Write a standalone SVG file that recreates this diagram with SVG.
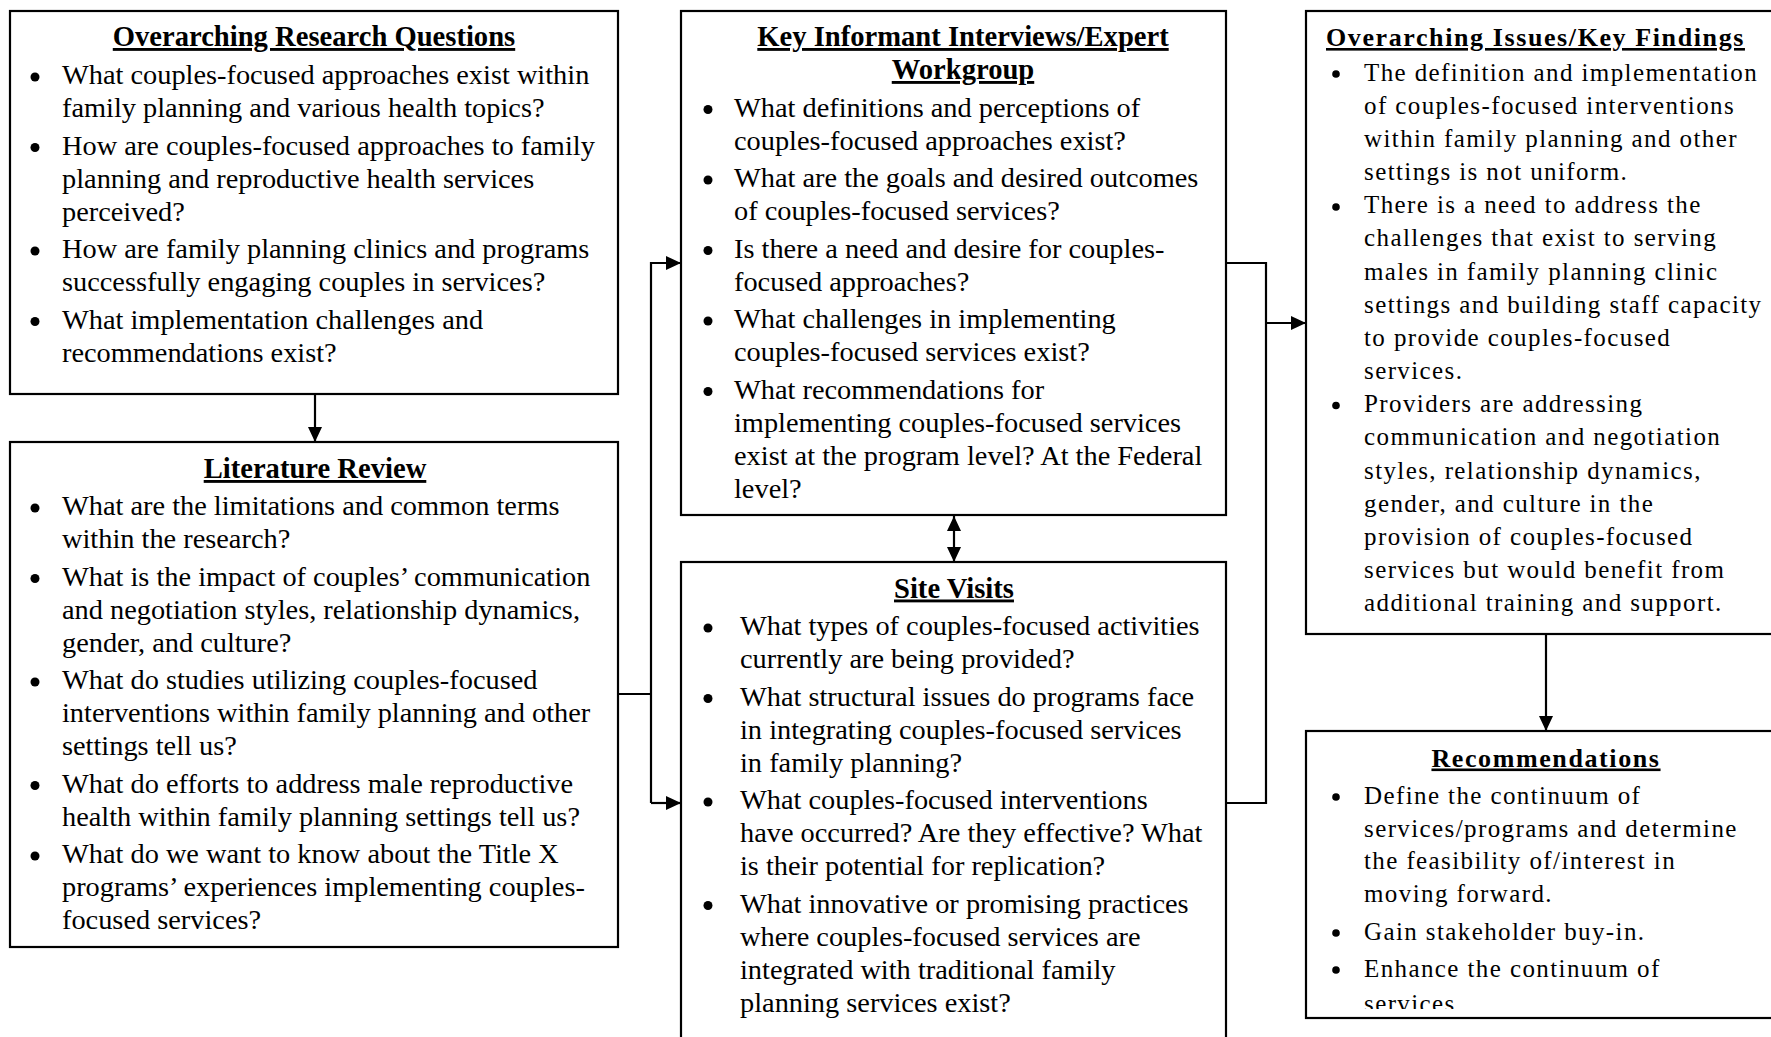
<svg xmlns="http://www.w3.org/2000/svg" width="1771" height="1037" viewBox="0 0 1771 1037">
<style>
text{font-family:"Liberation Serif","Times New Roman",serif;fill:#000}
.b{font-size:28.35px}
.t{font-size:28.6px;font-weight:bold;text-decoration:underline;text-anchor:middle}
.r{font-size:25px;letter-spacing:1.4px}
.rt{font-size:26px;font-weight:bold;text-decoration:underline;letter-spacing:1.6px}
.box{fill:#fff;stroke:#000;stroke-width:2.2}
.dot{fill:#000}
.conn{fill:none;stroke:#000;stroke-width:2.2}
</style>
<defs>
<marker id="ah" markerWidth="15" markerHeight="14" refX="15" refY="7" orient="auto-start-reverse" markerUnits="userSpaceOnUse"><path d="M0,0 L15,7 L0,14 z" fill="#000"/></marker>
<clipPath id="clip6"><rect x="1300" y="725" width="480" height="284"/></clipPath>
</defs>
<rect width="1771" height="1037" fill="#fff"/>

<g id="connectors">
<path class="conn" d="M315,394 V442" marker-end="url(#ah)"/>
<path class="conn" d="M618,694 H651"/>
<path class="conn" d="M651,803 V263 H681" marker-end="url(#ah)"/>
<path class="conn" d="M651,803 H681" marker-end="url(#ah)"/>
<path class="conn" d="M954,516 V562" marker-start="url(#ah)" marker-end="url(#ah)"/>
<path class="conn" d="M1226,263 H1266 V803 H1226"/>
<path class="conn" d="M1266,323 H1306" marker-end="url(#ah)"/>
<path class="conn" d="M1546,634 V731" marker-end="url(#ah)"/>
</g>

<g id="research-questions">
<rect class="box" x="10" y="11" width="608" height="383"/>
<text class="t" x="314" y="46">Overarching Research Questions</text>
<circle class="dot" cx="35" cy="77" r="4.5"/>
<circle class="dot" cx="35" cy="147.5" r="4.5"/>
<circle class="dot" cx="35" cy="251" r="4.5"/>
<circle class="dot" cx="35" cy="321.5" r="4.5"/>
<text class="b" x="62" y="84">What couples-focused approaches exist within</text>
<text class="b" x="62" y="117">family planning and various health topics?</text>
<text class="b" x="62" y="154.5">How are couples-focused approaches to family</text>
<text class="b" x="62" y="187.5">planning and reproductive health services</text>
<text class="b" x="62" y="220.5">perceived?</text>
<text class="b" x="62" y="258">How are family planning clinics and programs</text>
<text class="b" x="62" y="291">successfully engaging couples in services?</text>
<text class="b" x="62" y="328.5">What implementation challenges and</text>
<text class="b" x="62" y="361.5">recommendations exist?</text>
</g>

<g id="literature-review">
<rect class="box" x="10" y="442" width="608" height="505"/>
<text class="t" x="315" y="478">Literature Review</text>
<circle class="dot" cx="35" cy="508" r="4.5"/>
<circle class="dot" cx="35" cy="578.5" r="4.5"/>
<circle class="dot" cx="35" cy="682" r="4.5"/>
<circle class="dot" cx="35" cy="785.5" r="4.5"/>
<circle class="dot" cx="35" cy="856" r="4.5"/>
<text class="b" x="62" y="515">What are the limitations and common terms</text>
<text class="b" x="62" y="548">within the research?</text>
<text class="b" x="62" y="585.5">What is the impact of couples’ communication</text>
<text class="b" x="62" y="618.5">and negotiation styles, relationship dynamics,</text>
<text class="b" x="62" y="651.5">gender, and culture?</text>
<text class="b" x="62" y="689">What do studies utilizing couples-focused</text>
<text class="b" x="62" y="722">interventions within family planning and other</text>
<text class="b" x="62" y="755">settings tell us?</text>
<text class="b" x="62" y="792.5">What do efforts to address male reproductive</text>
<text class="b" x="62" y="825.5">health within family planning settings tell us?</text>
<text class="b" x="62" y="863">What do we want to know about the Title X</text>
<text class="b" x="62" y="896">programs’ experiences implementing couples-</text>
<text class="b" x="62" y="929">focused services?</text>
</g>

<g id="key-informant">
<rect class="box" x="681" y="11" width="545" height="504"/>
<text class="t" x="963" y="46">Key Informant Interviews/Expert</text>
<text class="t" x="963" y="79">Workgroup</text>
<circle class="dot" cx="708" cy="109.5" r="4.5"/>
<circle class="dot" cx="708" cy="180" r="4.5"/>
<circle class="dot" cx="708" cy="250.5" r="4.5"/>
<circle class="dot" cx="708" cy="321" r="4.5"/>
<circle class="dot" cx="708" cy="391.5" r="4.5"/>
<text class="b" x="734" y="116.5">What definitions and perceptions of</text>
<text class="b" x="734" y="149.5">couples-focused approaches exist?</text>
<text class="b" x="734" y="187">What are the goals and desired outcomes</text>
<text class="b" x="734" y="220">of couples-focused services?</text>
<text class="b" x="734" y="257.5">Is there a need and desire for couples-</text>
<text class="b" x="734" y="290.5">focused approaches?</text>
<text class="b" x="734" y="328">What challenges in implementing</text>
<text class="b" x="734" y="361">couples-focused services exist?</text>
<text class="b" x="734" y="398.5">What recommendations for</text>
<text class="b" x="734" y="431.5">implementing couples-focused services</text>
<text class="b" x="734" y="464.5">exist at the program level? At the Federal</text>
<text class="b" x="734" y="497.5">level?</text>
</g>

<g id="site-visits">
<rect class="box" x="681" y="562" width="545" height="500"/>
<text class="t" x="954" y="597.5">Site Visits</text>
<circle class="dot" cx="708" cy="628" r="4.5"/>
<circle class="dot" cx="708" cy="698.5" r="4.5"/>
<circle class="dot" cx="708" cy="802" r="4.5"/>
<circle class="dot" cx="708" cy="905.5" r="4.5"/>
<text class="b" x="740" y="635">What types of couples-focused activities</text>
<text class="b" x="740" y="668">currently are being provided?</text>
<text class="b" x="740" y="705.5">What structural issues do programs face</text>
<text class="b" x="740" y="738.5">in integrating couples-focused services</text>
<text class="b" x="740" y="771.5">in family planning?</text>
<text class="b" x="740" y="809">What couples-focused interventions</text>
<text class="b" x="740" y="842">have occurred? Are they effective? What</text>
<text class="b" x="740" y="875">is their potential for replication?</text>
<text class="b" x="740" y="912.5">What innovative or promising practices</text>
<text class="b" x="740" y="945.5">where couples-focused services are</text>
<text class="b" x="740" y="978.5">integrated with traditional family</text>
<text class="b" x="740" y="1011.5">planning services exist?</text>
</g>

<g id="key-findings">
<rect class="box" x="1306" y="11" width="545" height="623"/>
<text class="rt" x="1326" y="46">Overarching Issues/Key Findings</text>
<circle class="dot" cx="1336" cy="74" r="3.8"/>
<circle class="dot" cx="1336" cy="207" r="3.8"/>
<circle class="dot" cx="1336" cy="405.5" r="3.8"/>
<text class="r" x="1364" y="80.5">The definition and implementation</text>
<text class="r" x="1364" y="113.7">of couples-focused interventions</text>
<text class="r" x="1364" y="146.8">within family planning and other</text>
<text class="r" x="1364" y="180">settings is not uniform.</text>
<text class="r" x="1364" y="213.2">There is a need to address the</text>
<text class="r" x="1364" y="246.4">challenges that exist to serving</text>
<text class="r" x="1364" y="279.5">males in family planning clinic</text>
<text class="r" x="1364" y="312.7">settings and building staff capacity</text>
<text class="r" x="1364" y="345.9">to provide couples-focused</text>
<text class="r" x="1364" y="379">services.</text>
<text class="r" x="1364" y="412.2">Providers are addressing</text>
<text class="r" x="1364" y="445.4">communication and negotiation</text>
<text class="r" x="1364" y="478.5">styles, relationship dynamics,</text>
<text class="r" x="1364" y="511.7">gender, and culture in the</text>
<text class="r" x="1364" y="544.9">provision of couples-focused</text>
<text class="r" x="1364" y="578">services but would benefit from</text>
<text class="r" x="1364" y="611.2">additional training and support.</text>
</g>

<g id="recommendations">
<rect class="box" x="1306" y="731" width="545" height="287"/>
<text class="rt" x="1546" y="766.5" text-anchor="middle">Recommendations</text>
<circle class="dot" cx="1336" cy="797" r="3.8"/>
<circle class="dot" cx="1336" cy="933" r="3.8"/>
<circle class="dot" cx="1336" cy="970" r="3.8"/>
<g clip-path="url(#clip6)">
<text class="r" x="1364" y="803.5">Define the continuum of</text>
<text class="r" x="1364" y="836.5">services/programs and determine</text>
<text class="r" x="1364" y="869">the feasibility of/interest in</text>
<text class="r" x="1364" y="901.5">moving forward.</text>
<text class="r" x="1364" y="939.5">Gain stakeholder buy-in.</text>
<text class="r" x="1364" y="976.5">Enhance the continuum of</text>
<text class="r" x="1364" y="1012">services.</text>
</g>
</g>
</svg>
